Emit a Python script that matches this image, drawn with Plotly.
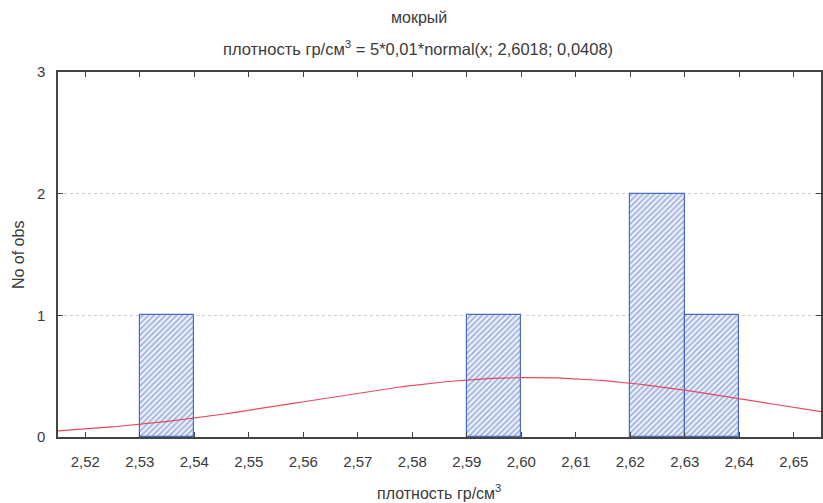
import numpy as np
import plotly.graph_objects as go

# Histogram bins (left edge) and observation counts
bin_left = [2.53, 2.59, 2.62, 2.63]
counts = [1, 1, 2, 1]
bin_width = 0.01

# Fitted normal curve parameters: 5*0,01*normal(x; 2,6018; 0,0408)
n_obs = 5
mean = 2.6018
sd = 0.0408

x_ticks = [2.52, 2.53, 2.54, 2.55, 2.56, 2.57, 2.58, 2.59, 2.60, 2.61, 2.62, 2.63, 2.64, 2.65]
x_tick_text = ["2,52", "2,53", "2,54", "2,55", "2,56", "2,57", "2,58", "2,59", "2,60",
               "2,61", "2,62", "2,63", "2,64", "2,65"]
y_ticks = [0, 1, 2, 3]

x_range = [2.515, 2.655]

centers = [b + bin_width / 2 for b in bin_left]
xc = np.linspace(x_range[0], x_range[1], 300)
yc = n_obs * bin_width * np.exp(-0.5 * ((xc - mean) / sd) ** 2) / (sd * np.sqrt(2 * np.pi))

W, H = 823, 503
ML, MR, MT, MB = 58, 0, 72, 66
PW, PH = W - ML - MR, H - MT - MB


def px(x):
    return (x - ML) / PW


def py(y):
    return (H - MB - y) / PH


font = "Liberation Sans, Arial, sans-serif"
txt = "#3a3a3a"

fig = go.Figure()
fig.add_trace(go.Bar(
    x=centers, y=counts, width=bin_width,
    marker=dict(
        color="#e9eefa",
        line=dict(color="#4a6cc8", width=1.2),
        pattern=dict(shape="/", fgcolor="#4f70c8", bgcolor="#eef2fb", size=4, solidity=0.45),
    ),
    showlegend=False,
))
fig.add_trace(go.Scatter(
    x=xc, y=yc, mode="lines",
    line=dict(color="#e8485a", width=1.2),
    showlegend=False,
))

annotations = [
    dict(text="мокрый", x=px(420), y=py(18), size=16),
    dict(text="плотность гр/см<sup>3</sup> = 5*0,01*normal(x; 2,6018; 0,0408)",
         x=px(419), y=py(48), size=16.5),
    dict(text="плотность гр/см<sup>3</sup>", x=px(440), y=py(492), size=16),
    dict(text="No of obs", x=px(18), y=py(255), size=16, textangle=-90),
]

fig.update_layout(
    width=W, height=H,
    margin=dict(l=ML, r=MR, t=MT, b=MB),
    paper_bgcolor="white", plot_bgcolor="white",
    font=dict(family=font, color=txt, size=15),
    bargap=0,
    annotations=[
        dict(text=a["text"], x=a["x"], y=a["y"], xref="paper", yref="paper",
             xanchor="center", yanchor="middle", showarrow=False,
             textangle=a.get("textangle", 0),
             font=dict(size=a["size"], family=font, color=txt))
        for a in annotations
    ],
    xaxis=dict(
        range=x_range, tickvals=x_ticks, ticktext=x_tick_text,
        ticks="inside", ticklen=5, tickcolor="#444444",
        showline=True, linecolor="#444444", linewidth=1.5, mirror="ticks",
        showgrid=False, zeroline=False, ticklabelstandoff=10,
        tickfont=dict(size=15, family=font, color=txt),
    ),
    yaxis=dict(
        range=[0, 3], tickvals=y_ticks,
        ticks="inside", ticklen=5, tickcolor="#444444",
        showline=True, linecolor="#444444", linewidth=1.5, mirror="ticks",
        showgrid=True, gridcolor="#c8cdd8", griddash="dot", gridwidth=1,
        zeroline=False, ticklabelstandoff=8,
        tickfont=dict(size=15, family=font, color=txt),
    ),
)

fig.write_html("out.html")
